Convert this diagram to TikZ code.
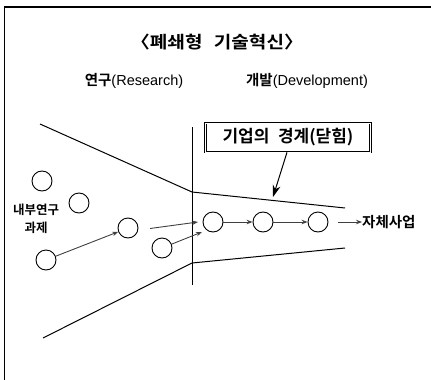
\documentclass[tikz,border=0pt]{standalone}
\usepackage{fontspec}
\setmainfont{Liberation Sans}
\newfontfamily\lat{Liberation Sans}
\newfontfamily\krb{Noto Sans CJK KR Bold}
\usetikzlibrary{arrows.meta}
\begin{document}
\begin{tikzpicture}[x=1pt,y=-1pt,
  proc/.style={circle,draw,line width=0.9pt,minimum size=20pt,inner sep=0pt},
  flow/.style={-{Stealth[length=6pt,width=4.5pt]},line width=0.9pt,draw=black!75},
  edge/.style={line width=1pt},
  lbl/.style={font=\fontsize{14.5}{16}\selectfont,inner sep=0pt}
]
\useasboundingbox (0,0) rectangle (431,380);
\draw[line width=1.2pt] (4.5,380) -- (4.5,7) -- (431,7);
\node[font=\krb\fontsize{17}{20}\selectfont,inner sep=0pt] (title) at (217,42) {\scalebox{1.12}[1]{〈폐쇄형\hspace{0.6em}기술혁신〉}};
\node[lbl] (res) at (134,81) {{\krb 연구}{\lat(Research)}};
\node[lbl] (dev) at (307,81) {{\krb 개발}{\lat(Development)}};
\node[draw,double,double distance=1pt,line width=0.6pt,font=\krb\fontsize{17}{20}\selectfont,minimum width=165pt,minimum height=29pt,inner sep=0pt] (box) at (288,137.5) {기업의\hspace{0.5em}경계(닫힘)};
% funnel
\coordinate (u0) at (40,124);
\coordinate (u1) at (192,192);
\coordinate (u2) at (345,208);
\coordinate (l0) at (43,338);
\coordinate (l1) at (192,263);
\coordinate (l2) at (345,248);
\coordinate (v0) at (192,127);
\coordinate (v1) at (192,285);
\draw[edge] (u0) -- (u1) -- (u2);
\draw[edge] (l0) -- (l1) -- (l2);
\draw[edge] (v0) -- (v1);
\coordinate (bt) at (273,197);
\draw[-{Stealth[length=12pt,width=8pt]},line width=1pt] (box.south -| 287,0) -- (bt);
% circles
\node[proc] (c1) at (42,181) {};
\node[proc] (c2) at (79,203) {};
\node[proc] (c3) at (46,260) {};
\node[proc] (c4) at (128,228) {};
\node[proc] (c5) at (162,248) {};
\node[proc] (c6) at (213,222) {};
\node[proc] (c7) at (263,222) {};
\node[proc] (c8) at (318,222) {};
\node[font=\krb\fontsize{12.5}{18}\selectfont,align=center,inner sep=0pt] (inner) at (36,219) {내부연구\\과제};
\node[font=\krb\fontsize{14.5}{16}\selectfont,inner sep=0pt,anchor=west] (own) at (362,222) {자체사업};
\coordinate (a0) at (150,228.5);
\coordinate (a1) at (198,222);
\coordinate (b1) at (202,232);
\draw[flow] (c3) -- (c4);
\draw[flow] (a0) -- (a1);
\draw[flow] (c5) -- (b1);
\draw[flow] (c6) -- (c7);
\draw[flow] (c7) -- (c8);
\coordinate (o0) at (338,222);
\draw[flow] (o0) -- (own.west);
\end{tikzpicture}
\end{document}
